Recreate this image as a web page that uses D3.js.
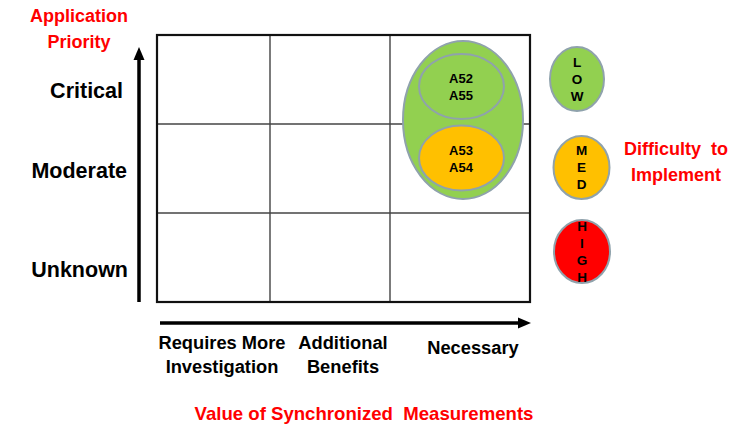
<!DOCTYPE html>
<html><head><meta charset="utf-8">
<script src="https://cdn.jsdelivr.net/npm/d3@7/dist/d3.min.js"></script>
<style>html,body{margin:0;padding:0;background:#fff;} text{font-family:"Liberation Sans",Arial,sans-serif;font-weight:bold;}</style>
</head><body><svg id="c" width="754" height="426"></svg>
<script>
const priorities = ["Critical", "Moderate", "Unknown"];
const valueLevels = [["Requires More", "Investigation"], ["Additional", "Benefits"], ["Necessary"]];
const difficultyLevels = ["LOW", "MED", "HIGH"];
const difficultyColors = ["#92D050", "#FFC000", "#FF0000"];
const groupIds = [["A52", "A55"], ["A53", "A54"]];
const groupPriority = ["Critical", "Moderate"];
const groupValue = ["Necessary", "Necessary"];
const groupDifficulty = ["LOW", "MED"];
const yTitle = ["Application", "Priority"];
const xTitle = "Value of Synchronized  Measurements";
const legendTitle = ["Difficulty  to", "Implement"];

const svg = d3.select("#c");
const red = "#FF0000";
const edge = "#8FA2AC";

// scales
const x = d3.scaleLinear().domain([0, 1, 2, 3]).range([157, 270, 390, 530]);
const y = d3.scaleBand().domain(priorities).range([35, 302]).paddingInner(0).paddingOuter(0);
const valueIndex = d3.scaleOrdinal().domain(["Requires More Investigation", "Additional Benefits", "Necessary"]).range([0, 1, 2]);
const diffColor = d3.scaleOrdinal().domain(difficultyLevels).range(difficultyColors);

// grid
const g = svg.append("g");
[1, 2].forEach(i => g.append("line").attr("x1", x(i)).attr("x2", x(i)).attr("y1", y.range()[0]).attr("y2", y.range()[1]).attr("stroke", "#222").attr("stroke-width", 1.2));
priorities.slice(1).forEach(p => g.append("line").attr("x1", x(0)).attr("x2", x(3)).attr("y1", y(p)).attr("y2", y(p)).attr("stroke", "#444").attr("stroke-width", 1.4));
g.append("rect").attr("x", x(0)).attr("y", y.range()[0]).attr("width", x(3) - x(0)).attr("height", y.range()[1] - y.range()[0]).attr("fill", "none").attr("stroke", "#111").attr("stroke-width", 2.2);

// axes arrows
svg.append("line").attr("x1", 139).attr("x2", 139).attr("y1", 302).attr("y2", 58).attr("stroke", "#000").attr("stroke-width", 3.5);
svg.append("path").attr("d", "M139,47 L133.5,60 L144.5,60 Z").attr("fill", "#000");
svg.append("line").attr("x1", 160).attr("x2", 519).attr("y1", 323).attr("y2", 323).attr("stroke", "#000").attr("stroke-width", 3.5);
svg.append("path").attr("d", "M531,323 L518,317.5 L518,328.5 Z").attr("fill", "#000");

// y labels
const yOff = [11, 2, 12];
const yRight = [123, 127, 128];
priorities.forEach((p, i) => {
  svg.append("text").attr("x", yRight[i]).attr("y", y(p) + y.bandwidth() / 2 + yOff[i]).attr("dy", "0.35em")
    .attr("text-anchor", "end").attr("font-size", 21.5).attr("fill", "#000").text(p);
});
// y title
yTitle.forEach((t, i) => svg.append("text").attr("x", 79).attr("y", 16 + i * 26).attr("dy", "0.35em").attr("text-anchor", "middle").attr("font-size", 18).attr("fill", red).text(t));

// x labels
const xOff = [8.5, 13, 13];
valueLevels.forEach((lines, i) => {
  const cx = (x(i) + x(i + 1)) / 2 + xOff[i];
  const baseY = lines.length === 1 ? 348 : 343;
  lines.forEach((t, j) => svg.append("text").attr("x", cx).attr("y", baseY + j * 24).attr("dy", "0.35em").attr("text-anchor", "middle").attr("font-size", 18.3).attr("fill", "#000").text(t));
});
svg.append("text").attr("x", 364).attr("y", 413).attr("dy", "0.35em").attr("text-anchor", "middle").attr("font-size", 18.6).attr("fill", red).style("white-space", "pre").text(xTitle);

// outer envelope ellipse spanning the groups in the Necessary column
const col = valueIndex(groupValue[0]);
const colCx = (x(col) + x(col + 1)) / 2;
const topP = y(groupPriority[0]), botP = y(groupPriority[groupPriority.length - 1]) + y.bandwidth();
svg.append("ellipse").attr("cx", colCx + 3).attr("cy", (topP + botP) / 2 - 4).attr("rx", 60).attr("ry", 79)
  .attr("fill", diffColor("LOW")).attr("stroke", edge).attr("stroke-width", 2);

// group ellipses
const groupCy = [86.5, 158];
groupIds.forEach((ids, i) => {
  const cy = groupCy[i];
  svg.append("ellipse").attr("cx", colCx + 1.5).attr("cy", cy).attr("rx", 42.5).attr("ry", 32.5)
    .attr("fill", diffColor(groupDifficulty[i])).attr("stroke", edge).attr("stroke-width", 2);
  ids.forEach((t, j) => svg.append("text").attr("x", colCx + 1).attr("y", cy - 8 + j * 17).attr("dy", "0.35em")
    .attr("text-anchor", "middle").attr("font-size", 13).attr("fill", "#000").text(t));
});

// difficulty legend
const legCx = [577, 581.5, 582];
const legCy = [79, 167.5, 251.5];
const legRx = [27, 28, 28];
const legRy = [32, 31.5, 31.5];
difficultyLevels.forEach((lv, i) => {
  svg.append("ellipse").attr("cx", legCx[i]).attr("cy", legCy[i]).attr("rx", legRx[i]).attr("ry", legRy[i])
    .attr("fill", diffColor(lv)).attr("stroke", edge).attr("stroke-width", 2);
  const letters = lv.split("");
  const step = 17;
  const start = legCy[i] - step * (letters.length - 1) / 2;
  letters.forEach((ch, j) => svg.append("text").attr("x", legCx[i]).attr("y", start + j * step).attr("dy", "0.35em")
    .attr("text-anchor", "middle").attr("font-size", 13.5).attr("fill", "#000").text(ch));
});
legendTitle.forEach((t, i) => svg.append("text").attr("x", 676).attr("y", 149 + i * 26).attr("dy", "0.35em").attr("text-anchor", "middle").attr("font-size", 18).attr("fill", red).style("white-space", "pre").text(t));
</script></body></html>
